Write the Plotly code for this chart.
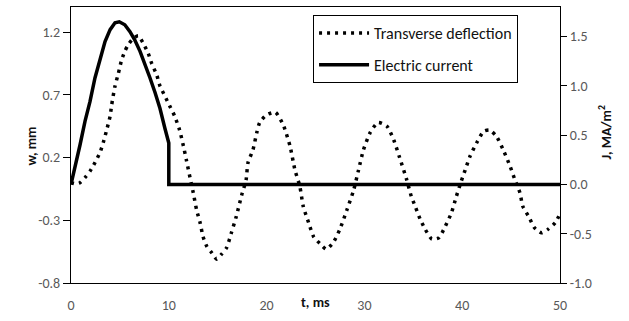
import plotly.graph_objects as go

# Transverse deflection w (mm)
t_w = [0, 0.5, 0.92, 1.43, 1.94, 2.45, 2.97, 3.3, 3.65, 4.0, 4.16, 4.5, 4.84, 5.18, 5.52, 5.86,
       6.37, 6.88, 7.39, 7.9, 8.25, 8.76, 9.1, 9.6, 10.1, 10.6, 11.1, 11.5, 11.8, 12.17, 12.5,
       12.85, 13.2, 13.5, 13.9, 14.4, 14.9, 15.4, 15.9, 16.4, 16.9, 17.45, 17.9, 18.1, 18.6,
       19.0, 19.3, 20.0, 20.9, 21.7, 22.4, 22.9, 23.4, 23.75, 24.3, 24.8, 25.5, 26.1, 26.8,
       27.5, 28.2, 28.9, 29.4, 29.9, 30.6, 31.4, 32.3, 33.0, 33.6, 34.3, 34.8, 35.2, 35.7,
       36.2, 36.9, 37.6, 38.2, 38.9, 39.4, 39.9, 40.3, 40.8, 41.5, 42.2, 42.8, 43.5, 44.2,
       44.9, 45.4, 45.9, 46.2, 46.8, 47.4, 48.1, 48.8, 49.5, 50.0]
w_vals = [0, -0.01, 0.0, 0.04, 0.09, 0.16, 0.24, 0.32, 0.42, 0.53, 0.62, 0.77, 0.87, 0.98, 1.05, 1.10,
          1.15, 1.17, 1.11, 1.03, 0.95, 0.86, 0.77, 0.69, 0.61, 0.53, 0.42, 0.29, 0.18, 0.04, -0.08,
          -0.22, -0.32, -0.43, -0.51, -0.56, -0.61, -0.57, -0.52, -0.40, -0.27, -0.10, 0.02, 0.16, 0.26,
          0.40, 0.48, 0.54, 0.56, 0.46, 0.29, 0.10, -0.03, -0.19, -0.32, -0.43, -0.49, -0.53, -0.48,
          -0.37, -0.22, -0.06, 0.10, 0.26, 0.40, 0.48, 0.45, 0.34, 0.20, 0.03, -0.11, -0.19, -0.29,
          -0.37, -0.45, -0.44, -0.36, -0.24, -0.11, 0.01, 0.10, 0.21, 0.32, 0.41, 0.42, 0.37, 0.26,
          0.13, 0.02, -0.08, -0.19, -0.27, -0.36, -0.40, -0.37, -0.32, -0.25]

# Electric current density J (MA/m^2)
t_j = [0, 0.58, 0.92, 1.43, 1.94, 2.45, 2.97, 3.48, 4.0, 4.5, 4.94, 5.5, 6.03, 6.5, 7.06, 7.57,
       8.08, 8.6, 9.1, 9.6, 10.0, 10.0, 50.0]
j_vals = [0, 0.23, 0.40, 0.64, 0.84, 1.08, 1.28, 1.45, 1.57, 1.64, 1.65, 1.62, 1.55, 1.47, 1.35, 1.22,
          1.08, 0.93, 0.77, 0.57, 0.42, 0.0, 0.0]

w_ticks = [-0.8, -0.3, 0.2, 0.7, 1.2]
j_ticks = [-1.0, -0.5, 0.0, 0.5, 1.0, 1.5]
t_ticks = [0, 10, 20, 30, 40, 50]

FONT = "Carlito, Lato, sans-serif"
TICKC = "#595959"

fig = go.Figure()
fig.add_trace(go.Scatter(x=t_w, y=w_vals, mode="lines", name="Transverse deflection",
                         legendgroup="a",
                         line=dict(color="black", width=3.5, dash="3px,5px", shape="spline", smoothing=0.6),
                         yaxis="y"))
fig.add_trace(go.Scatter(x=t_j, y=j_vals, mode="lines", name="Electric current",
                         legendgroup="b",
                         line=dict(color="black", width=3.5), yaxis="y2"))

fig.update_layout(
    width=629, height=321,
    margin=dict(l=71, r=69, t=7, b=38),
    paper_bgcolor="white", plot_bgcolor="white",
    font=dict(family=FONT, size=14, color=TICKC),
    showlegend=True,
    legend=dict(x=0.495, y=0.971, xanchor="left", yanchor="top",
                bordercolor="#000", borderwidth=1, bgcolor="white",
                font=dict(family=FONT, size=16, color="#111"), itemwidth=50,
                tracegroupgap=8),
    xaxis=dict(range=[0, 50], tickvals=t_ticks, ticks="", showgrid=False, zeroline=False,
               showline=True, linecolor="#000", linewidth=1, mirror=True,
               tickfont=dict(size=14, color=TICKC), ticklabelstandoff=9),
    xaxis2=dict(range=[0, 50], overlaying="x", anchor="free", position=0.8 / 2.2, side="bottom",
                tickvals=t_ticks, ticks="outside", ticklen=4, tickcolor="#000",
                showticklabels=False, showline=True, linecolor="#000", linewidth=1,
                showgrid=False, zeroline=False),
    yaxis=dict(range=[-0.8, 1.4], tickvals=w_ticks, ticktext=[f"{v:.1f}" for v in w_ticks],
               ticks="outside", ticklen=7, tickcolor="#000", showgrid=False, zeroline=False,
               showline=True, linecolor="#000", linewidth=1, tickfont=dict(size=14, color=TICKC)),
    yaxis2=dict(range=[-1.0, 1.8], tickvals=j_ticks, ticktext=[f"{v:.1f}" for v in j_ticks],
                overlaying="y", side="right", ticks="outside", ticklen=6, tickcolor="#000",
                showgrid=False, zeroline=False, showline=True, linecolor="#000", linewidth=1,
                tickfont=dict(size=14, color=TICKC)),
    annotations=[
        dict(text="<b>w, mm</b>", x=20, y=146, xref="paper", yref="paper", showarrow=False,
             textangle=-90, font=dict(size=14, color="#111", family=FONT)),
        dict(text="<b>J, MA/m<sup>2</sup></b>", x=617, y=133, xref="paper", yref="paper",
             showarrow=False, textangle=-90, font=dict(size=14, color="#111", family=FONT)),
        dict(text="<b>t, ms</b>", x=315, y=313, xref="paper", yref="paper", showarrow=False,
             font=dict(size=14, color="#111", family=FONT)),
    ],
)

# convert pixel-based annotation positions to paper coordinates
pw, ph = 629 - 71 - 69, 321 - 7 - 38
for a in fig.layout.annotations:
    px, py = a.x, a.y
    a.x = (px - 71) / pw
    a.y = 1 - (py - 7) / ph

fig.write_html("out.html")
